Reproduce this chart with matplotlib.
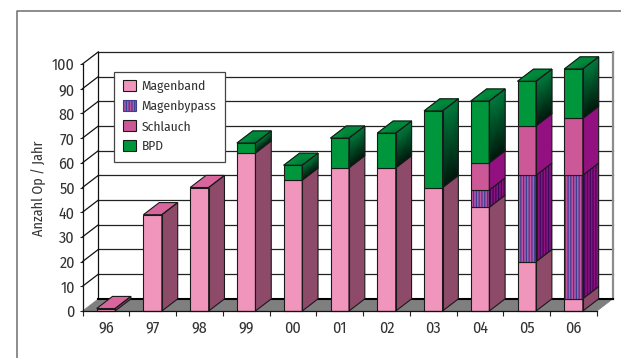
import numpy as np
import matplotlib
matplotlib.use('Agg')
import matplotlib.pyplot as plt
from matplotlib.colors import LinearSegmentedColormap
from matplotlib.lines import Line2D
from matplotlib.patches import Patch, Polygon

plt.rcParams['font.family'] = ['Fira Sans Condensed', 'PT Sans Narrow', 'Roboto Condensed', 'Open Sans']
plt.rcParams['hatch.linewidth'] = 0.9

years = ['96', '97', '98', '99', '00', '01', '02', '03', '04', '05', '06']
magenband = [1, 39, 50, 64, 53, 58, 58, 50, 42, 20, 5]
magenbypass = [0, 0, 0, 0, 0, 0, 0, 0, 7, 35, 50]
schlauch = [0, 0, 0, 0, 0, 0, 0, 0, 11, 20, 23]
bpd = [0, 0, 0, 4, 6, 12, 14, 31, 25, 18, 20]
yticks = [0, 10, 20, 30, 40, 50, 60, 70, 80, 90, 100]

# depth of the 3D box and bar width, in data units
DX = 0.338
DY = 4.9
BAR_W = 0.395
EDGE = '#1a1a1a'

green_side = LinearSegmentedColormap.from_list('gs', ['#00170c', '#007a3c'])
green_top = LinearSegmentedColormap.from_list('gt', ['#00582f', '#009a40'])

fig = plt.figure(figsize=(6.21, 3.58), dpi=100)
ax = fig.add_axes([82.5 / 621, 47 / 358, 514.5 / 621, 247 / 358])
ax.set_xlim(-0.5, 10.5)
ax.set_ylim(0, 100)

# outer frame, open to the right and at the bottom
fig.add_artist(Line2D([16.5 / 621, 16.5 / 621, 1], [0, 1 - 10.5 / 358, 1 - 10.5 / 358],
                      color='#6e6e6e', lw=1.1))

x0, x1 = -0.5, 10.5

# back wall grid and the slanted lines on the left wall
for v in yticks[1:]:
    ax.plot([x0 + DX, x1 + DX], [v + DY, v + DY], color='#222222', lw=0.9,
            clip_on=False, zorder=1)
    ax.plot([x0, x0 + DX], [v, v + DY], color='#111111', lw=0.9, clip_on=False, zorder=1)
ax.plot([x0 + DX, x0 + DX], [DY, 100 + DY], color='#111111', lw=0.9, clip_on=False, zorder=1)
ax.plot([x1 + DX, x1 + DX], [DY, 100 + DY], color='#8c8c8c', lw=1.6, clip_on=False, zorder=1)

# floor
ax.add_patch(Polygon([(x0, 0), (x1, 0), (x1 + DX, DY), (x0 + DX, DY)], fc='#7f7f7f',
                     ec='#7f7f7f', lw=0.5, clip_on=False, zorder=2))
ax.plot([x0 + DX, x1 + DX], [DY, DY], color='black', lw=1.5, clip_on=False, zorder=2)


def outline(points, z):
    ax.add_patch(Polygon(points, fc='none', ec=EDGE, lw=0.8, clip_on=False, zorder=z))


def gradient(points, cmap, values, z):
    # points run lower-left, lower-right, upper-right, upper-left
    px = np.array([[points[0][0], points[1][0]], [points[3][0], points[2][0]]])
    py = np.array([[points[0][1], points[1][1]], [points[3][1], points[2][1]]])
    ax.pcolormesh(px, py, np.array(values), cmap=cmap, vmin=0, vmax=1, shading='gouraud',
                  clip_on=False, zorder=z)


def draw_segment(i, low, high, kind, is_top, z):
    left, right = i - BAR_W / 2, i + BAR_W / 2
    front = [(left, low), (right, low), (right, high), (left, high)]
    side = [(right, low), (right + DX, low + DY), (right + DX, high + DY), (right, high)]
    top = [(left, high), (right, high), (right + DX, high + DY), (left + DX, high + DY)]

    if kind == 'band':
        ax.add_patch(Polygon(front, fc='#f096bd', ec='none', clip_on=False, zorder=z))
        ax.add_patch(Polygon(side, fc='#8d4b69', ec='none', clip_on=False, zorder=z))
        top_color = '#d8669c'
    elif kind == 'bypass':
        ax.add_patch(Polygon(front, fc='#c054a4', ec='#3b3f92', hatch='|' * 6, lw=0,
                             clip_on=False, zorder=z))
        ax.add_patch(Polygon(side, fc='#92107f', ec='#3c0a5c', hatch='|' * 6, lw=0,
                             clip_on=False, zorder=z))
        top_color = '#cc5898'
    elif kind == 'sleeve':
        ax.add_patch(Polygon(front, fc='#cc5898', ec='none', clip_on=False, zorder=z))
        ax.add_patch(Polygon(side, fc='#92107f', ec='none', clip_on=False, zorder=z))
        top_color = '#cc5898'
    else:
        ax.add_patch(Polygon(front, fc='#00963c', ec='none', clip_on=False, zorder=z))
        gradient(side, green_side, [[0, 0], [1, 1]], z)
        top_color = None

    outline(front, z + 0.1)
    outline(side, z + 0.1)
    if is_top:
        if top_color is None:
            gradient([top[0], top[1], top[2], top[3]], green_top, [[1, 0.35], [0.7, 0.8]], z)
        else:
            ax.add_patch(Polygon(top, fc=top_color, ec='none', clip_on=False, zorder=z))
        outline(top, z + 0.1)


# bars, painted from left to right so each one overlaps the previous side face
z = 3
for i in range(len(years)):
    base = 0
    parts = [(magenband[i], 'band'), (magenbypass[i], 'bypass'),
             (schlauch[i], 'sleeve'), (bpd[i], 'bpd')]
    parts = [p for p in parts if p[0] > 0]
    for n, (value, kind) in enumerate(parts):
        draw_segment(i, base, base + value, kind, n == len(parts) - 1, z)
        base += value
        z += 1

for side in ['top', 'right']:
    ax.spines[side].set_visible(False)
for side in ['left', 'bottom']:
    ax.spines[side].set_linewidth(0.9)
    ax.spines[side].set_color('#111111')
    ax.spines[side].set_zorder(z + 1)

ax.set_xticks(range(len(years)))
ax.set_xticklabels(years)
ax.set_xticks(np.arange(-0.5, 11), minor=True)
ax.set_yticks(yticks)
ax.tick_params(axis='x', which='major', length=0, pad=6.5, labelsize=11.5, labelcolor='#333333')
ax.tick_params(axis='x', which='minor', length=3.5, width=0.8, color='#222222')
ax.tick_params(axis='y', length=2.5, width=0.8, pad=3, labelsize=11.5, labelcolor='#333333',
               color='#222222')
ax.set_ylabel('Anzahl Op / Jahr', fontsize=10.2, color='#333333')
ax.yaxis.set_label_coords(-36 / 514.5, 0.495)

handles = [
    Patch(fc='#f096bd', ec=EDGE, lw=0.8),
    Patch(fc='#c054a4', ec='#3b3f92', hatch='|' * 6, lw=0.8),
    Patch(fc='#cc5898', ec=EDGE, lw=0.8),
    Patch(fc='#00963c', ec=EDGE, lw=0.8),
]
leg = ax.legend(handles, ['Magenband', 'Magenbypass', 'Schlauch', 'BPD'],
                loc='upper left', bbox_to_anchor=(31.5 / 514.5, (311 - 71.5) / 247),
                borderaxespad=0, fontsize=9.7, fancybox=False, framealpha=1,
                edgecolor='#444444', handlelength=0.96, handleheight=0.85, handletextpad=0.42,
                labelspacing=0.52, borderpad=0.66, labelcolor='#333333')
leg.set_zorder(z + 2)
leg.get_frame().set_linewidth(0.9)

fig.savefig('out.png', dpi=100)
